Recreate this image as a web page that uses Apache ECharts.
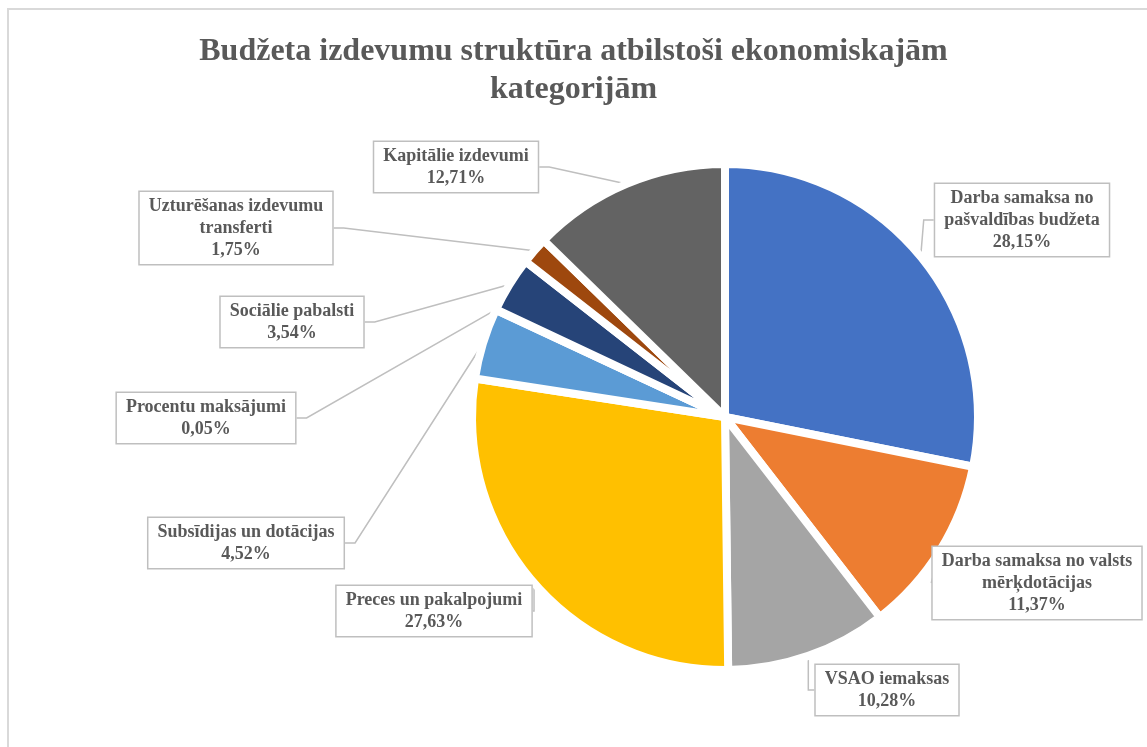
<!DOCTYPE html>
<html>
<head>
<meta charset="utf-8">
<script src="https://cdn.jsdelivr.net/npm/echarts@6/dist/echarts.min.js"></script>
<style>
  html, body { margin: 0; padding: 0; background: #fff; overflow: hidden; }
  #chart { width: 1147px; height: 747px; }
</style>
</head>
<body>
<div id="chart"></div>
<script>
// categories in clockwise order from 12 o'clock
const categories = [
  "Darba samaksa no\npašvaldības budžeta",
  "Darba samaksa no valsts\nmērķdotācijas",
  "VSAO iemaksas",
  "Preces un pakalpojumi",
  "Subsīdijas un dotācijas",
  "Procentu maksājumi",
  "Sociālie pabalsti",
  "Uzturēšanas izdevumu\ntransferti",
  "Kapitālie izdevumi"
];
const shares = [28.15, 11.37, 10.28, 27.63, 4.52, 0.05, 3.54, 1.75, 12.71];
const colors = ["#4472C4", "#ED7D31", "#A5A5A5", "#FFC000", "#5B9BD5", "#70AD47", "#264478", "#9E480E", "#636363"];

// callout box centres (px)
const labelPos = [
  [1022, 220], [1037, 583], [887, 690], [434, 611], [246, 543],
  [206, 418], [292, 322], [236, 228], [456, 167]
];

const chart = echarts.init(document.getElementById("chart"));

const option = {
  animation: false,
  title: {
    text: "Budžeta izdevumu struktūra atbilstoši ekonomiskajām\nkategorijām",
    left: "center",
    top: 28,
    textStyle: {
      fontFamily: "Liberation Serif",
      fontWeight: "bold",
      fontSize: 32,
      lineHeight: 38,
      color: "#595959"
    }
  },
  graphic: [{
    type: "rect",
    shape: { x: 8, y: 9, width: 1200, height: 800 },
    style: { fill: "none", stroke: "#d9d9d9", lineWidth: 2 },
    silent: true
  }],
  series: [{
    type: "pie",
    center: [725, 417],
    radius: 253,
    startAngle: 90,
    clockwise: true,
    avoidLabelOverlap: false,
    itemStyle: { borderColor: "#fff", borderWidth: 8 },
    data: categories.map((name, i) => ({
      name: name,
      value: shares[i],
      itemStyle: { color: colors[i] }
    })),
    label: {
      show: true,
      position: "outside",
      formatter: p => p.name + "\n" + p.value.toFixed(2).replace(".", ",") + "%",
      fontFamily: "Liberation Serif",
      fontWeight: "bold",
      fontSize: 18,
      lineHeight: 22,
      color: "#595959",
      align: "center",
      backgroundColor: "#fff",
      borderColor: "#bfbfbf",
      borderWidth: 1.5,
      padding: [3, 9]
    },
    labelLine: {
      show: true,
      length: 10,
      length2: 10,
      lineStyle: { color: "#bfbfbf", width: 1.5 }
    },
    labelLayout: p => ({
      x: labelPos[p.dataIndex][0],
      y: labelPos[p.dataIndex][1],
      align: "center",
      verticalAlign: "middle"
    })
  }]
};

chart.setOption(option);
</script>
</body>
</html>
